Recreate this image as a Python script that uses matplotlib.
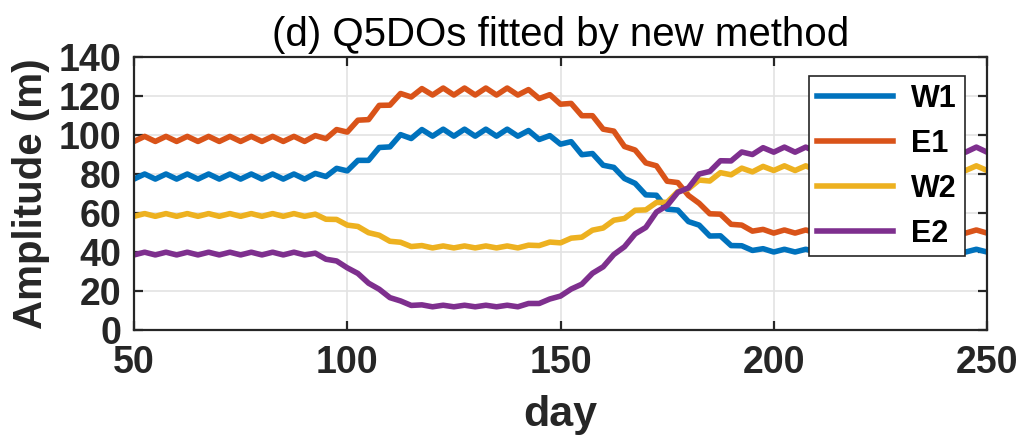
import numpy as np
import matplotlib
matplotlib.use("Agg")
import matplotlib.pyplot as plt

plt.rcParams['font.family'] = ['Liberation Sans', 'DejaVu Sans']

# sampling grid (days)
days = np.arange(50, 250.1, 2.5)

# fitted amplitudes (m), one value per grid day
w1 = [77.4, 80.0, 77.4, 80.0, 77.4, 80.0, 77.4, 80.0, 77.4, 80.0,
      77.4, 80.0, 77.4, 80.0, 77.4, 80.0, 77.4, 80.3, 78.7, 82.9,
      81.6, 87.0, 87.0, 93.6, 93.9, 100.2, 98.2, 102.8, 99.4, 103.0,
      99.4, 103.0, 99.4, 103.0, 99.4, 103.0, 99.4, 102.3, 97.7, 99.7,
      95.3, 96.6, 89.9, 90.5, 84.5, 83.4, 77.7, 75.2, 69.3, 69.1,
      62.0, 61.5, 55.6, 53.8, 48.2, 48.3, 43.3, 43.2, 40.8, 41.7,
      40.0, 41.4, 40.0, 41.4, 40.0, 41.4, 40.0, 41.4, 40.0, 41.4,
      40.0, 41.4, 40.0, 41.4, 40.0, 41.4, 40.0, 41.4, 40.0, 41.4,
      40.0]

e1 = [96.7, 99.3, 96.7, 99.3, 96.7, 99.3, 96.7, 99.3, 96.7, 99.3,
      96.7, 99.3, 96.7, 99.3, 96.7, 99.3, 96.7, 99.7, 98.1, 102.8,
      101.5, 107.6, 107.9, 115.2, 115.3, 121.3, 119.5, 123.8, 120.5, 124.1,
      120.5, 124.1, 120.5, 124.1, 120.5, 124.1, 120.5, 123.3, 118.7, 120.7,
      115.8, 116.2, 109.9, 109.9, 103.0, 102.0, 94.1, 92.3, 85.7, 84.2,
      76.3, 75.6, 69.0, 65.0, 59.6, 59.4, 54.2, 53.8, 50.7, 51.6,
      49.7, 51.3, 49.7, 51.3, 49.7, 51.3, 49.7, 51.3, 49.7, 51.3,
      49.7, 51.3, 49.7, 51.3, 49.7, 51.3, 49.7, 51.3, 49.7, 51.3,
      49.7]

w2 = [58.3, 59.7, 58.3, 59.7, 58.3, 59.7, 58.3, 59.7, 58.3, 59.7,
      58.3, 59.7, 58.3, 59.7, 58.3, 59.7, 58.3, 59.4, 56.8, 56.7,
      53.8, 53.1, 49.9, 48.6, 45.5, 45.0, 42.8, 43.3, 42.1, 43.1,
      42.1, 43.1, 42.1, 43.1, 42.1, 43.1, 42.1, 43.5, 43.3, 45.1,
      44.7, 47.1, 47.6, 51.2, 52.3, 56.3, 57.2, 61.4, 61.6, 65.4,
      65.5, 71.0, 72.4, 76.9, 76.4, 80.7, 79.6, 83.0, 81.1, 83.9,
      81.8, 84.2, 81.8, 84.2, 81.8, 84.2, 81.8, 84.2, 81.8, 84.2,
      81.8, 84.2, 81.8, 84.2, 81.8, 84.2, 81.8, 84.2, 81.8, 84.2,
      81.8]

e2 = [38.5, 39.9, 38.5, 39.9, 38.5, 39.9, 38.5, 39.9, 38.5, 39.9,
      38.5, 39.9, 38.5, 39.9, 38.5, 39.9, 38.5, 39.4, 36.3, 35.4,
      31.9, 29.0, 24.0, 20.9, 16.6, 14.9, 12.6, 12.9, 11.9, 12.7,
      11.9, 12.7, 11.9, 12.7, 11.9, 12.7, 11.9, 13.6, 13.6, 15.9,
      17.4, 21.0, 23.5, 29.1, 32.4, 38.7, 42.7, 49.3, 52.6, 60.5,
      63.8, 70.6, 72.9, 80.0, 81.3, 86.8, 86.7, 91.3, 90.0, 93.5,
      91.2, 93.8, 91.2, 93.8, 91.2, 93.8, 91.2, 93.8, 91.2, 93.8,
      91.2, 93.8, 91.2, 93.8, 91.2, 93.8, 91.2, 93.8, 91.2, 93.8,
      91.2]

labels = ['W1', 'E1', 'W2', 'E2']
colors = ['#0072BD', '#D95319', '#EDB120', '#7E2F8E']
xticks = [50, 100, 150, 200, 250]
yticks = [0, 20, 40, 60, 80, 100, 120, 140]

fig = plt.figure(figsize=(10.19, 4.42), dpi=100)
ax = fig.add_axes([0.1315, 0.2534, 0.8371, 0.6176])

for series, lab, col in zip([w1, e1, w2, e2], labels, colors):
    ax.plot(days, series, color=col, linewidth=4, label=lab)

ax.set_xlim(50, 250)
ax.set_ylim(0, 140)
ax.set_xticks(xticks)
ax.set_yticks(yticks)
ax.grid(True, color='#e3e3e3', linewidth=1.2)
ax.set_axisbelow(True)

for sp in ax.spines.values():
    sp.set_color('#262626')
    sp.set_linewidth(1.6)
ax.tick_params(direction='in', length=6.5, width=1.6, color='#262626',
               top=True, right=True, labelsize=27, labelcolor='#262626')
ax.tick_params(axis='x', pad=11)
ax.tick_params(axis='y', pad=9)
for t in ax.get_xticklabels() + ax.get_yticklabels():
    t.set_fontweight('bold')

ax.set_title('(d) Q5DOs fitted by new method', fontsize=29, pad=8)
ax.set_xlabel('day', fontsize=31, fontweight='bold', labelpad=10, color='#262626')
ax.set_ylabel('Amplitude (m)', fontsize=29, fontweight='bold', labelpad=6, color='#262626')

leg = ax.legend(loc='upper right', bbox_to_anchor=(0.974, 0.93), borderaxespad=0,
                prop={'weight': 'bold', 'size': 22}, frameon=True,
                fancybox=False, handlelength=2.5, handletextpad=0.6,
                labelspacing=0.49, borderpad=0.25)
leg.get_frame().set_edgecolor('#262626')
leg.get_frame().set_linewidth(1.2)
leg.get_frame().set_alpha(1)

fig.savefig('out.png', dpi=100)
